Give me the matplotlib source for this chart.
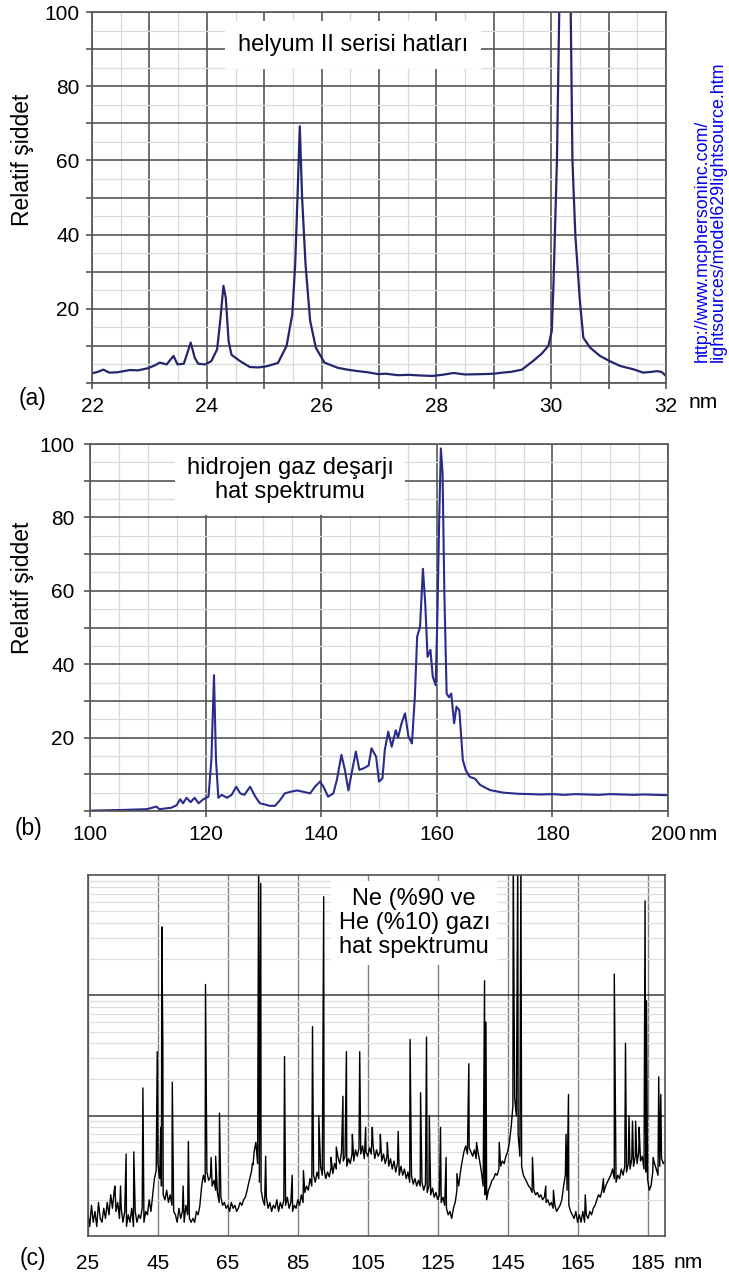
import numpy as np
import matplotlib
matplotlib.use('Agg')
import matplotlib.pyplot as plt
from matplotlib.ticker import LogLocator, NullFormatter

plt.rcParams['font.family'] = ['Liberation Sans', 'DejaVu Sans']

W, H = 729, 1282

# (a) helyum II serisi
a_nm = [22.0, 22.1, 22.2, 22.3, 22.45, 22.66, 22.8, 22.98, 23.1, 23.18,
        23.3, 23.42, 23.49, 23.6, 23.72, 23.79, 23.85, 23.97, 24.08, 24.18,
        24.24, 24.29, 24.33, 24.38, 24.43, 24.58, 24.75, 24.9, 25.04, 25.24,
        25.39, 25.49, 25.54, 25.58, 25.62, 25.66, 25.72, 25.8, 25.9, 26.05,
        26.28, 26.45, 26.63, 26.8, 26.98, 27.12, 27.33, 27.53, 27.75, 27.93,
        28.1, 28.3, 28.5, 28.82, 29.0, 29.15, 29.3, 29.49, 29.69, 29.84,
        29.95, 30.01, 30.04, 30.1, 30.14, 30.2, 30.3, 30.34, 30.37, 30.42,
        30.5, 30.56, 30.68, 30.85, 31.02, 31.2, 31.43, 31.6, 31.75, 31.84,
        31.92, 32.0]
a_val = [2.6, 3.0, 3.6, 2.8, 2.9, 3.5, 3.4, 4.0, 4.8, 5.5,
         5.0, 7.3, 5.0, 5.2, 10.9, 6.8, 5.2, 5.0, 5.9, 9.1,
         17.7, 26.2, 23.0, 11.3, 7.6, 5.9, 4.3, 4.2, 4.5, 5.4,
         10.0, 18.6, 32.0, 50.0, 69.2, 50.0, 32.0, 16.8, 9.5, 5.5,
         4.1, 3.6, 3.2, 2.9, 2.4, 2.5, 2.1, 2.2, 2.0, 1.9,
         2.2, 2.7, 2.3, 2.4, 2.5, 2.8, 3.0, 3.6, 6.0, 8.0,
         10.0, 14.0, 26.7, 60.0, 100.0, 140.0, 140.0, 100.0, 60.0, 40.0,
         22.0, 12.2, 9.5, 7.3, 5.9, 4.6, 3.7, 2.8, 3.0, 3.2,
         3.0, 1.9]

# (b) hidrojen gaz deşarjı
b_nm = [100.0, 103.0, 106.0, 109.8, 111.5, 112.0, 114.1, 115.0, 115.6, 116.1,
        116.7, 117.4, 118.1, 118.8, 119.6, 120.5, 121.0, 121.45, 121.8, 122.2,
        122.8, 123.7, 124.5, 125.3, 126.0, 126.7, 127.7, 128.6, 129.4, 130.2,
        131.1, 132.0, 132.9, 133.7, 134.6, 135.8, 137.0, 138.1, 138.9, 139.8,
        140.4, 141.2, 142.1, 142.7, 143.5, 144.1, 144.7, 145.3, 146.0, 146.6,
        147.3, 148.2, 148.7, 149.5, 150.0, 150.6, 151.0, 151.6, 152.2, 152.9,
        153.3, 153.9, 154.5, 155.1, 155.7, 156.2, 156.6, 157.1, 157.6, 158.0,
        158.4, 158.9, 159.3, 159.8, 160.1, 160.4, 160.7, 161.0, 161.3, 161.7,
        162.1, 162.5, 163.0, 163.4, 163.9, 164.5, 165.0, 165.7, 166.6, 167.5,
        169.2, 171.5, 174.0, 176.1, 178.0, 180.0, 182.0, 184.0, 186.0, 188.0,
        190.0, 192.0, 194.0, 196.0, 198.0, 200.0]
b_val = [0.1, 0.2, 0.3, 0.5, 1.2, 0.5, 0.9, 1.6, 3.2, 2.1,
         3.6, 2.4, 3.6, 2.1, 3.2, 3.9, 13.9, 37.0, 13.9, 3.6,
         4.4, 3.6, 4.4, 6.6, 4.8, 4.4, 6.6, 3.9, 2.1, 1.8,
         1.4, 1.4, 3.0, 4.8, 5.2, 5.6, 5.2, 4.8, 6.6, 8.0,
         6.6, 3.9, 4.8, 8.4, 15.3, 11.2, 5.6, 10.6, 16.2, 11.2,
         11.6, 12.4, 17.1, 14.8, 8.0, 8.9, 16.6, 21.6, 17.5, 22.0,
         20.0, 23.9, 26.6, 20.3, 18.4, 31.0, 47.5, 50.2, 66.0, 56.6,
         42.0, 43.9, 36.6, 34.3, 53.0, 78.4, 98.8, 92.0, 60.0, 32.0,
         31.0, 32.0, 23.9, 28.4, 27.5, 13.9, 11.2, 9.3, 8.8, 7.1,
         5.7, 5.0, 4.7, 4.6, 4.5, 4.6, 4.4, 4.6, 4.5, 4.4,
         4.6, 4.5, 4.4, 4.5, 4.4, 4.3]

# (c) Ne/He: noisy background every 0.5 nm from 25 nm, plus line peaks
c_start, c_step = 25.0, 0.5
c_base = [1.5, 1.2, 1.8, 1.3, 1.6, 1.2, 1.9, 1.4, 1.3, 1.7,
          1.4, 1.9, 1.5, 2.2, 1.7, 2.4, 1.6, 1.9, 1.4, 1.7,
          1.3, 1.6, 1.2, 1.5, 1.3, 1.7, 1.2, 1.6, 1.3, 1.5,
          1.4, 1.7, 1.3, 1.6, 1.5, 2.0, 1.6, 2.2, 3.0, 3.5,
          4.0, 3.0, 2.6, 2.2, 2.0, 2.4, 1.9, 2.2, 1.8, 1.6,
          1.5, 1.3, 1.7, 1.4, 1.6, 1.3, 1.8, 1.5, 1.4, 1.3,
          1.4, 1.3, 1.6, 1.5, 1.8, 2.6, 3.2, 2.8, 3.4, 2.9,
          3.1, 2.6, 2.9, 2.4, 2.3, 1.9, 2.1, 1.8, 1.9, 1.7,
          1.8, 1.6, 1.9, 1.7, 1.8, 1.6, 1.7, 1.9, 1.8, 2.0,
          2.1, 2.4, 2.8, 3.2, 4.0, 5.0, 6.0, 4.0, 2.8, 2.4,
          2.0, 1.8, 2.1, 1.7, 1.9, 1.6, 1.8, 1.7, 2.0, 1.6,
          1.9, 1.7, 2.0, 1.8, 2.1, 1.7, 1.9, 1.6, 1.8, 1.7,
          2.0, 1.8, 2.2, 1.9, 2.3, 2.6, 2.4, 3.0, 2.6, 3.2,
          2.8, 3.4, 3.0, 3.8, 3.2, 3.6, 3.0, 3.4, 3.1, 3.7,
          3.3, 4.0, 3.6, 4.5, 4.0, 5.0, 4.2, 4.6, 3.8, 4.4,
          4.0, 4.8, 4.2, 5.2, 4.6, 5.4, 4.8, 5.6, 4.4, 5.0,
          4.6, 5.4, 4.8, 5.8, 4.4, 5.2, 4.6, 5.0, 4.2, 4.8,
          4.0, 4.6, 3.8, 4.4, 3.6, 4.2, 3.4, 4.0, 3.2, 3.8,
          3.2, 3.6, 3.0, 3.4, 2.8, 3.2, 2.7, 3.0, 2.6, 2.9,
          2.6, 2.8, 2.4, 2.7, 2.3, 2.6, 2.2, 2.5, 2.1, 2.3,
          2.0, 2.2, 1.9, 2.1, 1.8, 1.7, 1.5, 1.6, 1.4, 1.7,
          1.9, 2.4, 2.6, 3.4, 4.2, 5.0, 5.6, 4.8, 5.4, 5.0,
          4.6, 5.2, 4.4, 5.0, 4.2, 3.4, 2.6, 2.2, 2.0, 2.4,
          2.6, 2.9, 3.0, 3.3, 3.2, 3.6, 3.8, 4.2, 4.0, 4.6,
          5.0, 6.0, 8.0, 12.0, 14.0, 10.0, 7.0, 4.6, 3.8, 3.2,
          3.0, 2.8, 2.6, 2.5, 2.3, 2.4, 2.2, 2.3, 2.1, 2.2,
          2.0, 2.1, 1.9, 2.0, 1.8, 1.9, 1.7, 1.8, 1.6, 1.7,
          1.8, 2.0, 2.6, 3.2, 2.4, 1.8, 1.6, 1.5, 1.4, 1.6,
          1.3, 1.5, 1.3, 1.6, 1.3, 1.5, 1.4, 1.6, 1.5, 1.7,
          1.8, 2.0, 2.2, 2.1, 2.4, 2.3, 2.6, 2.8, 3.0, 3.2,
          3.6, 3.0, 2.8, 3.2, 3.0, 3.6, 3.2, 3.8, 3.4, 4.0,
          3.6, 4.4, 3.8, 4.6, 4.0, 5.0, 4.2, 4.6, 3.6, 3.4,
          3.0, 2.4, 2.6, 3.4, 4.0, 3.6, 3.2, 3.8, 4.4, 4.0,
          4.2]
c_peak_nm = [32.7, 34.3, 35.9, 38.1, 40.7, 44.8, 45.8, 46.1, 46.4, 49.1,
             52.2, 53.7, 58.6, 60.2, 61.5, 62.6, 71.8, 72.2, 73.8, 74.4,
             75.8, 81.2, 83.4, 86.6, 89.2, 91.0, 92.4, 94.5, 96.0, 97.9,
             98.9, 100.6, 102.7, 104.4, 106.3, 108.6, 110.6, 113.7, 117.1, 120.1,
             121.8, 122.6, 125.8, 127.4, 130.5, 133.9, 136.1, 138.4, 138.8, 142.6,
             146.6, 147.9, 148.8, 152.1, 155.9, 158.1, 161.7, 162.4, 167.2, 172.4,
             175.5, 178.7, 179.7, 180.7, 181.6, 182.6, 184.3, 184.7, 186.6, 188.2,
             188.8]
c_peak_val = [2.6, 2.6, 4.8, 5.0, 17, 34, 8, 370, 40, 19,
              2.6, 6.1, 123, 4.5, 4.6, 10.5, 3.5, 3.9, 1600, 850,
              4.6, 31, 3.2, 3.5, 55, 10, 660, 4.5, 5.5, 14.5,
              34, 7, 34, 8, 8, 7, 6, 7.4, 43, 15.5,
              45, 10, 8, 4.5, 3.3, 27, 6, 132, 60, 6,
              1600, 1600, 1600, 4.5, 2.6, 2.4, 7, 15, 2.2, 3,
              150, 40, 10, 9, 9, 8, 610, 90, 4.5, 21,
              15]


def fx(px):
    return px / W


def fy(py):
    return 1 - py / H


fig = plt.figure(figsize=(W / 100, H / 100), dpi=100)
fig.patch.set_facecolor('white')

DARK = '#555555'
LIGHT = '#d9d9d9'
TICK_FS = 15


def lin_style(ax, xmaj, xlab, xmin, ymaj, ylab, ymin, ypad):
    ax.set_xticks(xmaj)
    ax.set_xticklabels(xlab)
    ax.set_xticks(xmin, minor=True)
    ax.set_yticks(ymaj)
    ax.set_yticklabels(ylab)
    ax.set_yticks(ymin, minor=True)
    ax.grid(which='major', color=DARK, lw=1.2)
    ax.grid(which='minor', color=LIGHT, lw=0.9)
    ax.set_axisbelow(True)
    ax.tick_params(which='major', length=4, width=1.2, color=DARK, labelsize=TICK_FS)
    ax.tick_params(axis='x', which='major', pad=6)
    ax.tick_params(axis='y', which='major', pad=ypad)
    ax.tick_params(which='minor', length=0)
    for s in ax.spines.values():
        s.set_color(DARK)
        s.set_linewidth(1.2)


# ---- panel (a)
ax_a = fig.add_axes([fx(92), fy(383), (666 - 92) / W, (383 - 12) / H])
ax_a.plot(a_nm, a_val, color='#25256e', lw=1.6)
ax_a.set_xlim(22, 32)
ax_a.set_ylim(0, 100)
xa = list(range(22, 33))
ya = list(range(0, 101, 10))
lin_style(ax_a, xa, [str(v) if v % 2 == 0 else '' for v in xa],
          [v + 0.5 for v in range(22, 32)],
          ya, [str(v) if v % 20 == 0 and v > 0 else '' for v in ya],
          list(range(5, 100, 10)), 5)
ax_a.text(26.55, 91.2, 'helyum II serisi hatları', ha='center', va='center',
          fontsize=17, bbox=dict(boxstyle='square,pad=0.55', fc='white', ec='none'))

# ---- panel (b)
ax_b = fig.add_axes([fx(90), fy(811), (668 - 90) / W, (811 - 444) / H])
ax_b.plot(b_nm, b_val, color='#2b2b8c', lw=1.5)
ax_b.set_xlim(100, 200)
ax_b.set_ylim(0, 100)
xb = list(range(100, 201, 20))
lin_style(ax_b, xb, [str(v) for v in xb],
          [v for v in range(105, 200, 5) if v % 20 != 0],
          ya, [str(v) if v % 20 == 0 and v > 0 else '' for v in ya],
          list(range(5, 100, 10)), 7)
ax_b.text(134.6, 90.2, 'hidrojen gaz deşarjı\nhat spektrumu', ha='center', va='center',
          fontsize=17, linespacing=1.1,
          bbox=dict(boxstyle='square,pad=0.5', fc='white', ec='none'))

# ---- panel (c)
ax_c = fig.add_axes([fx(88), fy(1236), (665 - 88) / W, (1236 - 875) / H])
c_base_nm = c_start + c_step * np.arange(len(c_base))
cx = np.concatenate([c_base_nm, c_peak_nm])
cy = np.concatenate([c_base, c_peak_val])
order = np.argsort(cx, kind='stable')
ax_c.plot(cx[order], cy[order], color='black', lw=1.0)
ax_c.set_yscale('log')
ax_c.set_xlim(25, 190)
ax_c.set_ylim(1, 1000)
ax_c.set_yticks([10, 100])
ax_c.yaxis.set_minor_locator(LogLocator(base=10, subs=range(2, 10)))
ax_c.yaxis.set_major_formatter(NullFormatter())
ax_c.yaxis.set_minor_formatter(NullFormatter())
xc = list(range(25, 186, 20))
ax_c.set_xticks(xc)
ax_c.set_xticklabels([str(v) for v in xc])
ax_c.grid(axis='y', which='major', color='#3a3a3a', lw=1.1)
ax_c.grid(axis='y', which='minor', color='#dedede', lw=0.9)
ax_c.grid(axis='x', which='major', color='#808080', lw=1.0)
ax_c.set_axisbelow(True)
ax_c.tick_params(which='both', length=0, labelsize=TICK_FS)
ax_c.tick_params(axis='x', pad=13)
for s in ax_c.spines.values():
    s.set_color('#505050')
    s.set_linewidth(1.2)
ax_c.text(118.3, 400, 'Ne (%90 ve\nHe (%10) gazı\nhat spektrumu', ha='center', va='center',
          fontsize=17, linespacing=1.12,
          bbox=dict(boxstyle='square,pad=0.3', fc='white', ec='none'))

# ---- labels outside axes
for ycen in (160, 588):
    fig.text(fx(22), fy(ycen), 'Relatif şiddet', rotation=90, ha='center', va='center',
             fontsize=16.5)
fig.text(fx(710), fy(362), 'http://www.mcphersoninc.com/\nlightsources/model629lightsource.htm',
         rotation=90, ha='center', va='bottom', multialignment='left',
         color='#0000ee', fontsize=12.9, linespacing=0.9)
for lab, px, py in (('(a)', 33, 398), ('(b)', 29, 828), ('(c)', 33, 1259)):
    fig.text(fx(px), fy(py), lab, ha='center', va='center', fontsize=16.5)
for px, py in ((703, 403), (703, 834), (688, 1263)):
    fig.text(fx(px), fy(py), 'nm', ha='center', va='center', fontsize=TICK_FS)

fig.savefig('out.png', dpi=100)
